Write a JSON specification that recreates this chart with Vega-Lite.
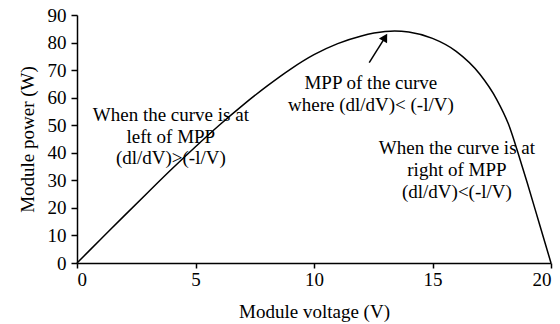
{
  "$schema": "https://vega.github.io/schema/vega-lite/v6.json",
  "autosize": "none",
  "width": 474,
  "height": 248,
  "padding": {"left": 77, "top": 15, "right": 9, "bottom": 61},
  "background": "white",
  "config": {
    "view": {"stroke": null},
    "font": "Liberation Serif",
    "axis": {"labelOverlap": false}
  },
  "datasets": {
    "curve": [
      {"voltage": 0, "power": 0},
      {"voltage": 1, "power": 8.6},
      {"voltage": 2, "power": 17.2},
      {"voltage": 3, "power": 25.7},
      {"voltage": 4, "power": 34.1},
      {"voltage": 5, "power": 42.2},
      {"voltage": 6, "power": 50},
      {"voltage": 7, "power": 57.3},
      {"voltage": 8, "power": 64.1},
      {"voltage": 9, "power": 70.3},
      {"voltage": 10, "power": 75.6},
      {"voltage": 11, "power": 79.6},
      {"voltage": 12, "power": 82.4},
      {"voltage": 13, "power": 84},
      {"voltage": 13.4, "power": 84.2},
      {"voltage": 14, "power": 83.8},
      {"voltage": 15, "power": 81.5},
      {"voltage": 16, "power": 76.8},
      {"voltage": 17, "power": 68.5},
      {"voltage": 17.7, "power": 59.5},
      {"voltage": 18.2, "power": 50.5},
      {"voltage": 18.7, "power": 37.4},
      {"voltage": 19, "power": 29},
      {"voltage": 19.5, "power": 14.5},
      {"voltage": 20, "power": 0}
    ],
    "notes": [
      {"voltage": 3.96, "power": 53.7, "label": "When the curve is at\nleft of MPP\n(dl/dV)>(-l/V)"},
      {"voltage": 12.4, "power": 65.2, "label": "MPP of the curve\nwhere (dl/dV)< (-l/V)"},
      {"voltage": 16.03, "power": 41.6, "label": "When the curve is at\nright of MPP\n(dl/dV)<(-l/V)"}
    ],
    "arrowShaft": [
      {"voltage": 12.33, "power": 72.7, "voltage2": 13.0, "power2": 81.9}
    ],
    "arrowHead": [
      {"voltage": 13.0, "power": 81.9}
    ]
  },
  "encoding": {
    "x": {
      "field": "voltage", "type": "quantitative",
      "scale": {"domain": [0, 20], "nice": false},
      "axis": {
        "title": "Module voltage (V)", "values": [0, 5, 10, 15, 20], "labelOverlap": false,
        "grid": false, "domainColor": "black", "domainWidth": 1.5,
        "tickColor": "black", "tickWidth": 1.5, "tickSize": 5,
        "labelColor": "black", "labelFont": "Liberation Serif", "labelFontSize": 19, "labelPadding": 2,
        "titleColor": "black", "titleFont": "Liberation Serif", "titleFontSize": 19, "titleFontWeight": "normal", "titlePadding": 13
      }
    },
    "y": {
      "field": "power", "type": "quantitative",
      "scale": {"domain": [0, 90], "nice": false},
      "axis": {
        "title": "Module power (W)", "values": [0, 10, 20, 30, 40, 50, 60, 70, 80, 90], "labelOverlap": false,
        "grid": false, "domainColor": "black", "domainWidth": 1.5,
        "tickColor": "black", "tickWidth": 1.5, "tickSize": 6,
        "labelColor": "black", "labelFont": "Liberation Serif", "labelFontSize": 19, "labelPadding": 5,
        "titleColor": "black", "titleFont": "Liberation Serif", "titleFontSize": 19, "titleFontWeight": "normal", "titlePadding": 10
      }
    }
  },
  "layer": [
    {
      "data": {"name": "curve"},
      "mark": {"type": "line", "color": "black", "strokeWidth": 1.5, "interpolate": "monotone"}
    },
    {
      "data": {"name": "notes"},
      "mark": {"type": "text", "color": "black", "font": "Liberation Serif", "fontSize": 19, "lineBreak": "\n", "lineHeight": 21.7, "align": "center", "baseline": "middle"},
      "encoding": {
        "text": {"field": "label"}
      }
    },
    {
      "data": {"name": "arrowShaft"},
      "mark": {"type": "rule", "color": "black", "strokeWidth": 1.5},
      "encoding": {
        "x2": {"field": "voltage2"},
        "y2": {"field": "power2"}
      }
    },
    {
      "data": {"name": "arrowHead"},
      "mark": {"type": "point", "shape": "triangle-up", "filled": true, "color": "black", "opacity": 1, "size": 90, "angle": 30.6}
    }
  ]
}
